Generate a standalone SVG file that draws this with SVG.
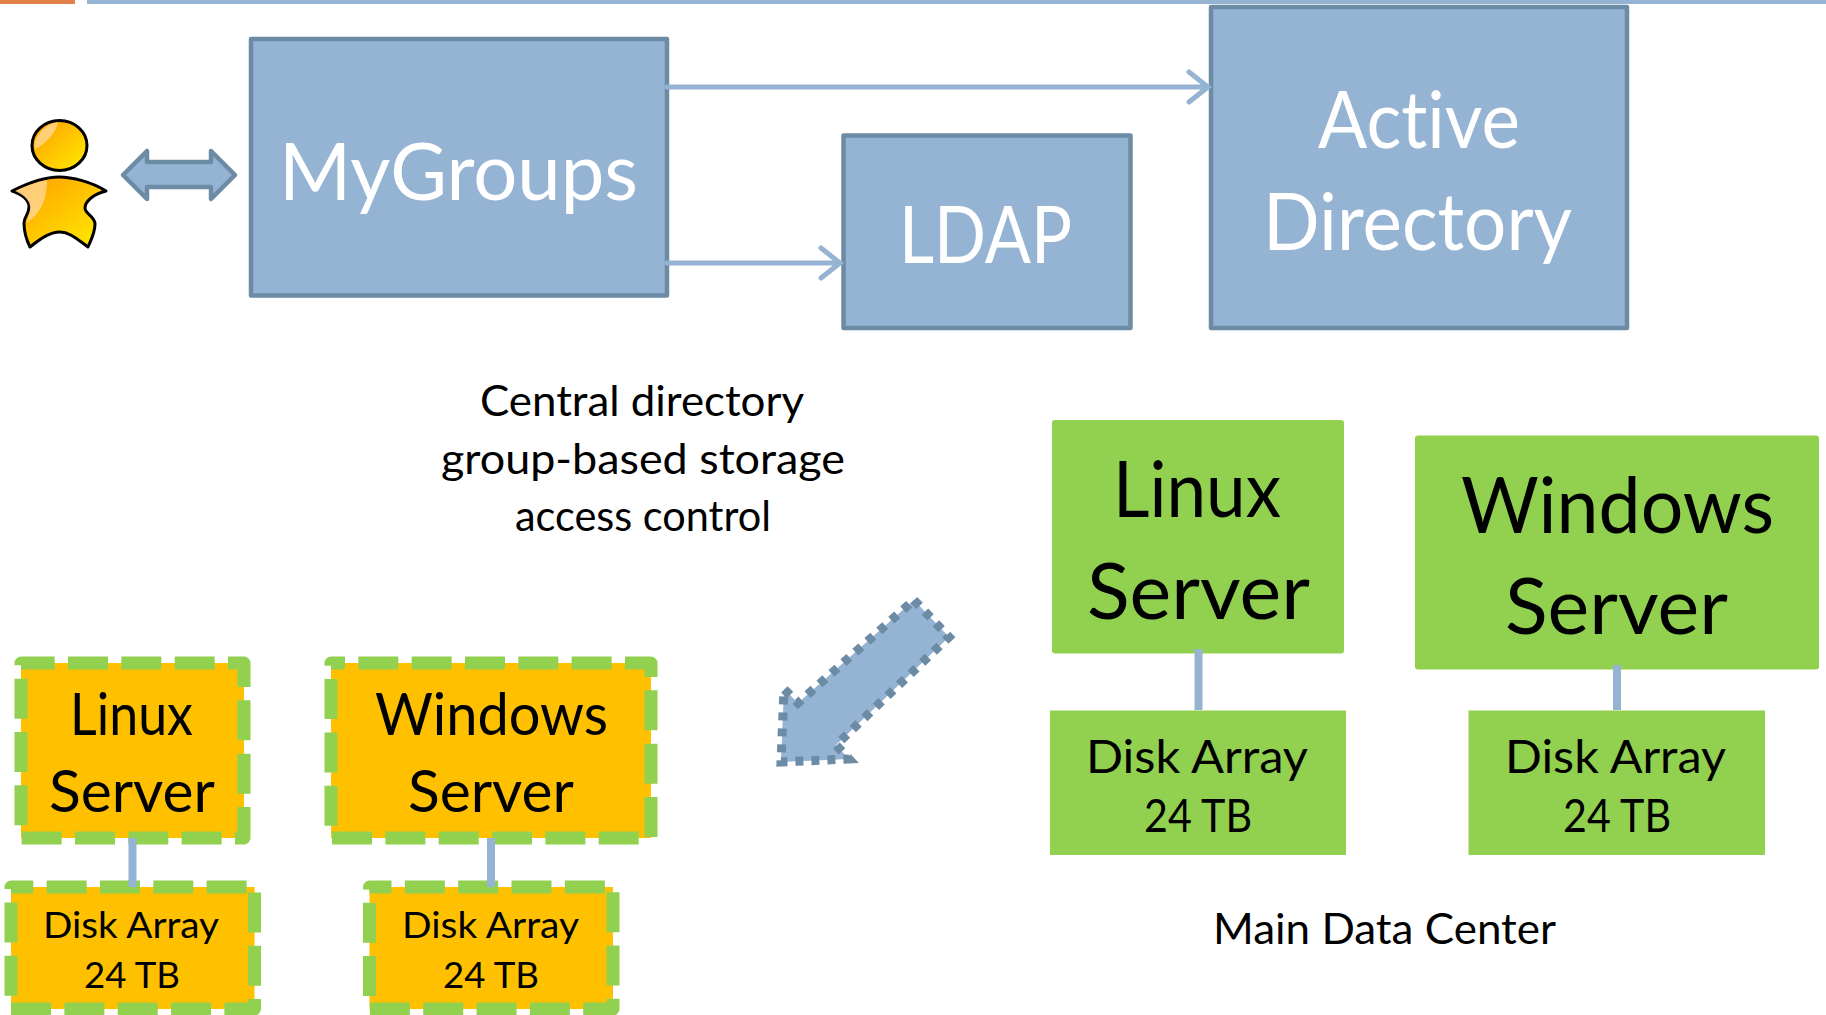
<svg xmlns="http://www.w3.org/2000/svg" width="1826" height="1015" viewBox="0 0 1826 1015">
<defs>
<style>
text{font-family:"Lato","Liberation Sans",sans-serif;fill:#000;font-weight:400;font-variant-ligatures:none}
.w{fill:#fff}
.b{fill:#95B3D2;stroke:#6C8BA5;stroke-width:4.500;stroke-linejoin:round}
.g{fill:#92D050;stroke:none}
.o{fill:#FFC000;stroke:#92D050;stroke-width:13;stroke-dasharray:40 13.33;stroke-linejoin:round}
.c{stroke:#95B3D2;fill:none}
.a{stroke:#95B3D2;fill:none;stroke-width:5;stroke-linecap:round;stroke-linejoin:miter}
</style>
<linearGradient id="pg" x1="0" y1="0" x2="1" y2="1"><stop offset="0" stop-color="#FF9A00"/><stop offset="1" stop-color="#FFEE00"/></linearGradient>
</defs>
<rect width="1826" height="1015" fill="#fff"/>
<rect x="0" y="0" width="75" height="4" fill="#E0814A"/>
<rect x="87" y="0" width="1739" height="4" fill="#95B3D2"/>
<g id="user">
<ellipse cx="59.500" cy="145.500" rx="27.500" ry="25" fill="url(#pg)" stroke="#000" stroke-width="3"/>
<path d="M12 191C30 182 48 177 59 177C72 177 92 182 106 191C94 194 85 201 85 208C85 214 95 216 95 224C95 233 91 240 88 247C78 240 70 232 60 232C49 232 39 240 30 247C26 239 24 231 24 223C24 217 29 214 29 207C29 200 22 194 12 191Z" fill="url(#pg)" stroke="#000" stroke-width="3" stroke-linejoin="round"/>
<path d="M58 122C56 134 44 145 35 149C33 139 42 125 58 122Z" fill="#FFD9A0" opacity=".75"/>
<path d="M47 180C47 198 42 212 27 223C28 216 31 212 30 206C29 199 22 194 15 191C25 186 36 182 47 180Z" fill="#FFD9A0" opacity=".75"/>
</g>
<g id="double-arrow"><path class="b" d="M123 175L147 151V162H211V151L235 175L211 199V187H147V199Z"/></g>
<g id="mygroups"><rect class="b" x="251" y="39" width="416" height="256.500"/><text class="w" x="279" y="200" font-size="80" textLength="359" lengthAdjust="spacingAndGlyphs">MyGroups</text></g>
<g id="ldap"><rect class="b" x="843.500" y="135.500" width="287" height="192.500"/><text class="w" x="899" y="263" font-size="80" textLength="173" lengthAdjust="spacingAndGlyphs">LDAP</text></g>
<g id="active-directory"><rect class="b" x="1211" y="7" width="416" height="321"/><text class="w" x="1318" y="148" font-size="80" textLength="202" lengthAdjust="spacingAndGlyphs">Active</text><text class="w" x="1263" y="250" font-size="80" textLength="309" lengthAdjust="spacingAndGlyphs">Directory</text></g>
<g id="caption-central"><text x="480" y="416" font-size="43" textLength="324" lengthAdjust="spacingAndGlyphs">Central directory</text><text x="441" y="474" font-size="43" textLength="404" lengthAdjust="spacingAndGlyphs">group-based storage</text><text x="515" y="531" font-size="43" textLength="256" lengthAdjust="spacingAndGlyphs">access control</text></g>
<g id="main-linux"><rect class="g" x="1052" y="420" width="292" height="233.500" rx="3"/><text x="1113" y="517" font-size="78" textLength="168" lengthAdjust="spacingAndGlyphs">Linux</text><text x="1087" y="619" font-size="78" textLength="223" lengthAdjust="spacingAndGlyphs">Server</text></g>
<g id="main-windows"><rect class="g" x="1415" y="435.500" width="404" height="234" rx="3"/><text x="1461" y="533" font-size="78" textLength="313" lengthAdjust="spacingAndGlyphs">Windows</text><text x="1505" y="634" font-size="78" textLength="223" lengthAdjust="spacingAndGlyphs">Server</text></g>
<g id="main-disk-1"><rect class="g" x="1050" y="710.500" width="296" height="144.500"/><text x="1086" y="773" font-size="47" textLength="222" lengthAdjust="spacingAndGlyphs">Disk Array</text><text x="1144" y="832" font-size="47" textLength="108" lengthAdjust="spacingAndGlyphs">24 TB</text></g>
<g id="main-disk-2"><rect class="g" x="1468.500" y="710.500" width="296.500" height="144.500"/><text x="1505" y="773" font-size="47" textLength="221" lengthAdjust="spacingAndGlyphs">Disk Array</text><text x="1563" y="832" font-size="47" textLength="108" lengthAdjust="spacingAndGlyphs">24 TB</text></g>
<g id="caption-main"><text x="1213" y="944" font-size="43" textLength="343" lengthAdjust="spacingAndGlyphs">Main Data Center</text></g>
<g id="big-arrow"><path d="M914 600L949 637L836 745L849 759L781 762L784 689L798 703Z" fill="#95B3D2" stroke="#6C8BA5" stroke-width="9" stroke-dasharray="8 8"/></g>
<g id="site-linux"><rect class="o" style="stroke-dashoffset:6.300" x="21" y="663" width="223" height="175"/><text x="70" y="735" font-size="58" textLength="123" lengthAdjust="spacingAndGlyphs">Linux</text><text x="49" y="812" font-size="58" textLength="166" lengthAdjust="spacingAndGlyphs">Server</text></g>
<g id="site-windows"><rect class="o" style="stroke-dashoffset:26" x="331" y="663" width="320" height="175"/><text x="375" y="735" font-size="58" textLength="233" lengthAdjust="spacingAndGlyphs">Windows</text><text x="408" y="812" font-size="58" textLength="166" lengthAdjust="spacingAndGlyphs">Server</text></g>
<g id="site-disk-1"><rect class="o" style="stroke-dashoffset:17.700" x="11" y="887" width="243.500" height="122"/><text x="43" y="938" font-size="36" textLength="176" lengthAdjust="spacingAndGlyphs">Disk Array</text><text x="84" y="988" font-size="36" textLength="96" lengthAdjust="spacingAndGlyphs">24 TB</text></g>
<g id="site-disk-2"><rect class="o" style="stroke-dashoffset:18" x="369.500" y="887" width="243.500" height="122"/><text x="402" y="938" font-size="36" textLength="177" lengthAdjust="spacingAndGlyphs">Disk Array</text><text x="443" y="988" font-size="36" textLength="96" lengthAdjust="spacingAndGlyphs">24 TB</text></g>
<g id="connectors">
<path class="a" d="M667 87H1208M1189 72L1208 87L1189 102"/>
<path class="a" d="M667 263H840M821 248L840 263L821 278"/>
<path class="c" stroke-width="8" d="M1198.500 649V710"/>
<path class="c" stroke-width="8" d="M1617 665V710"/>
<path class="c" stroke-width="8" d="M132.500 838V887"/>
<path class="c" stroke-width="8" d="M491 838V887"/>
</g>
</svg>
